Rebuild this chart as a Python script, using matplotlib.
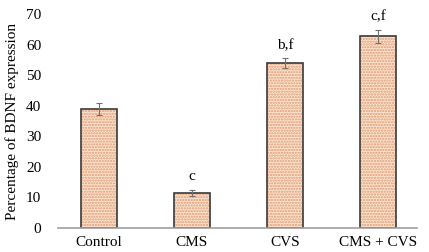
import matplotlib.pyplot as plt
import matplotlib as mpl

plt.rcParams['font.family'] = ['Liberation Serif', 'DejaVu Serif']
mpl.rcParams['hatch.linewidth'] = 1.1

# Data
groups = ['Control', 'CMS', 'CVS', 'CMS + CVS']
bdnf = [39.0, 11.5, 54.0, 62.7]
err = [2.0, 1.0, 1.5, 2.0]
letters = ['', 'c', 'b,f', 'c,f']

fig = plt.figure(figsize=(4.29, 2.52), dpi=100)
ax = fig.add_axes([0.135, 0.095, 0.837, 0.849])

x = range(len(groups))
# dotted fill (hatch takes the edge colour), then the dark outline on top
ax.bar(x, bdnf, width=0.39, color='#fde4d0', edgecolor='#dc9a72',
       linewidth=0, hatch='......', zorder=2)
ax.bar(x, bdnf, width=0.39, color='none', edgecolor='#3a3a3a',
       linewidth=1.2, zorder=2.5)
ax.errorbar(x, bdnf, yerr=err, fmt='none', ecolor='#707070', elinewidth=0.8,
            capsize=2.5, capthick=0.8, zorder=3)

for xi, v, e, t in zip(x, bdnf, err, letters):
    if t:
        ax.text(xi, v + e + 2.2, t, ha='center', va='bottom', fontsize=11)

ax.set_xlim(-0.44, 3.42)
ax.set_ylim(0, 70)
ax.set_yticks(range(0, 71, 10))
ax.set_xticks(list(x))
ax.set_xticklabels(groups, fontsize=11)
ax.tick_params(axis='both', length=0, labelsize=11)
ax.tick_params(axis='x', pad=6)
ax.tick_params(axis='y', pad=12)
ax.set_ylabel('Percentage of BDNF expression', fontsize=11, labelpad=5)

for s in ['top', 'right', 'left']:
    ax.spines[s].set_visible(False)
ax.spines['bottom'].set_color('#a0a0a0')
ax.spines['bottom'].set_linewidth(1.2)

fig.savefig('out.png', dpi=100)
